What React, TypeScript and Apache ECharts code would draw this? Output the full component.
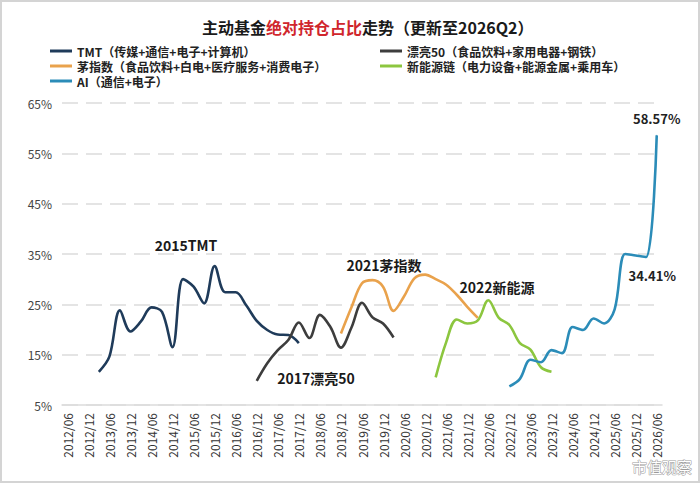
import React, { useEffect, useRef } from "react";
import * as echarts from "echarts";

const categories = [
  "2012/06", "2012/09", "2012/12", "2013/03", "2013/06", "2013/09", "2013/12", "2014/03",
  "2014/06", "2014/09", "2014/12", "2015/03", "2015/06", "2015/09", "2015/12", "2016/03",
  "2016/06", "2016/09", "2016/12", "2017/03", "2017/06", "2017/09", "2017/12", "2018/03",
  "2018/06", "2018/09", "2018/12", "2019/03", "2019/06", "2019/09", "2019/12", "2020/03",
  "2020/06", "2020/09", "2020/12", "2021/03", "2021/06", "2021/09", "2021/12", "2022/03",
  "2022/06", "2022/09", "2022/12", "2023/03", "2023/06", "2023/09", "2023/12", "2024/03",
  "2024/06", "2024/09", "2024/12", "2025/03", "2025/06", "2025/09", "2025/12", "2026/03",
  "2026/06",
];

const seriesNames = [
  "TMT（传媒+通信+电子+计算机）",
  "漂亮50（食品饮料+家用电器+钢铁）",
  "茅指数（食品饮料+白电+医疗服务+消费电子）",
  "新能源链（电力设备+能源金属+乘用车）",
  "AI（通信+电子）",
];

const tmtStart = "2013/03";
const tmtValues = [11.6, 14.6, 23.8, 19.6, 21.6, 24.4, 23.5, 16.5, 30.0, 28.5, 25.2, 32.6, 27.4, 27.4, 24.8, 21.7, 19.9, 19.0, 18.9, 17.3];

const beautyStart = "2016/12";
const beautyValues = [9.8, 13.3, 15.9, 17.9, 21.4, 18.3, 22.9, 20.5, 16.4, 20.4, 25.3, 22.4, 21.2, 18.4];

const maoStart = "2018/12";
const maoValues = [19.2, 24.4, 29.2, 29.8, 28.5, 23.7, 26.6, 30.2, 30.9, 30.0, 28.9, 26.9, 24.5, 22.3];

const energyStart = "2021/03";
const energyValues = [10.5, 17.5, 22.0, 21.2, 21.8, 25.8, 22.3, 20.9, 17.3, 16.0, 12.5, 11.6];

const aiStart = "2022/12";
const aiValues = [8.7, 10.2, 14.0, 13.5, 15.9, 15.3, 20.5, 19.9, 22.2, 21.2, 24.0, 35.0, 34.7, 34.41, 58.57];

const colors = ["#1f3b5a", "#3d3d3d", "#e9a24c", "#8cc63f", "#2b8cb8"];

const annotations = [
  { text: "2015TMT", x: 186, y: 245 },
  { text: "2017漂亮50", x: 316, y: 378 },
  { text: "2021茅指数", x: 384, y: 265 },
  { text: "2022新能源", x: 497, y: 287 },
];

// legend layout: [series index, left, top]
const legendSlots = [
  [0, 50, 45],
  [2, 50, 60],
  [4, 50, 75],
  [1, 380, 45],
  [3, 380, 60],
];

const FONT = "'Noto Sans CJK SC', 'Noto Sans', sans-serif";

function align(start: string, values: number[]): (number | null)[] {
  const s = categories.indexOf(start);
  return categories.map((_, i) => (i >= s && i < s + values.length ? values[i - s] : null));
}

export default function App() {
  const ref = useRef<HTMLDivElement>(null);

  useEffect(() => {
    if (!ref.current) return;
    const chart = echarts.init(ref.current, null, { renderer: "svg" });

    const n = categories.length;
    const valueLabel = (position: string, offset: number[]) => ({
      show: true,
      position,
      offset,
      formatter: "{c}%",
      fontSize: 13,
      fontWeight: "bold",
      color: "#222",
      fontFamily: FONT,
    });
    const aiData: any[] = align(aiStart, aiValues).map((v) => (v == null ? null : { value: v }));
    aiData[n - 2] = {
      value: aiValues[aiValues.length - 2],
      symbol: "circle",
      symbolSize: 1,
      label: valueLabel("bottom", [6, 7]),
    };
    aiData[n - 1] = {
      value: aiValues[aiValues.length - 1],
      symbol: "circle",
      symbolSize: 1,
      label: valueLabel("top", [0, -5]),
    };

    const datasets: any[] = [
      align(tmtStart, tmtValues),
      align(beautyStart, beautyValues),
      align(maoStart, maoValues),
      align(energyStart, energyValues),
      aiData,
    ];

    const legendText = {
      fontSize: 12,
      fontWeight: "bold",
      color: "#222",
      fontFamily: FONT,
    };

    chart.setOption({
      animation: false,
      backgroundColor: "#ffffff",
      textStyle: { fontFamily: FONT },
      title: {
        text: "{a|主动基金}{b|绝对持仓占比}{a|走势（更新至2026Q2）}",
        left: 202,
        top: 17,
        padding: 0,
        textStyle: {
          rich: {
            a: { fontSize: 16, fontWeight: "bold", color: "#1a1a1a", fontFamily: FONT, lineHeight: 20 },
            b: { fontSize: 16, fontWeight: "bold", color: "#d0262c", fontFamily: FONT, lineHeight: 20 },
          },
        },
      },
      legend: legendSlots.map(([k, left, top]) => ({
        left,
        top,
        padding: 0,
        itemWidth: 22,
        itemHeight: 3,
        icon: "rect",
        data: [seriesNames[k]],
        textStyle: legendText,
      })),
      grid: { left: 62, right: 38, top: 103, bottom: 78, containLabel: false },
      xAxis: {
        type: "category",
        data: categories,
        boundaryGap: true,
        axisTick: { show: false },
        axisLine: { show: true, lineStyle: { color: "#dcdcdc", width: 1.5 } },
        axisLabel: {
          interval: 1,
          rotate: 90,
          fontSize: 12,
          color: "#333",
          margin: 8,
          fontFamily: FONT,
        },
        splitLine: { show: false },
      },
      yAxis: {
        type: "value",
        min: 5,
        max: 65,
        interval: 10,
        axisLine: { show: false },
        axisTick: { show: false },
        axisLabel: { formatter: "{value}%", fontSize: 12, color: "#444", margin: 10, fontFamily: FONT },
        splitLine: { lineStyle: { color: "#dcdcdc", type: [16, 8], width: 1.5 } },
      },
      series: seriesNames.map((name, k) => ({
        name,
        type: "line",
        data: datasets[k],
        smooth: 0.35,
        symbol: "none",
        showSymbol: k === 4,
        connectNulls: false,
        lineStyle: { width: 2.6, color: colors[k] },
        itemStyle: { color: colors[k] },
        z: k === 4 ? 5 : 3,
      })),
      graphic: [
        ...annotations.map((a) => ({
          type: "text",
          x: a.x,
          y: a.y,
          style: {
            text: a.text,
            fontSize: 14,
            fontWeight: "bold",
            fill: "#1a1a1a",
            fontFamily: FONT,
            align: "center",
            verticalAlign: "middle",
          },
          z: 10,
        })),
        {
          type: "text",
          x: 692,
          y: 466,
          style: {
            text: "市值观察",
            fontSize: 15,
            fill: "#ffffff",
            stroke: "#9a9a9a",
            lineWidth: 1,
            fontFamily: FONT,
            align: "right",
            verticalAlign: "middle",
          },
          z: 10,
        },
        {
          type: "rect",
          shape: { x: 1, y: 1, width: 698, height: 481 },
          style: { fill: "none", stroke: "#d4d4d4", lineWidth: 2 },
          silent: true,
          z: 20,
        },
      ],
    });

    return () => chart.dispose();
  }, []);

  return (
    <div
      ref={ref}
      style={{ position: "fixed", left: 0, top: 0, width: 700, height: 483, background: "#fff" }}
    />
  );
}
